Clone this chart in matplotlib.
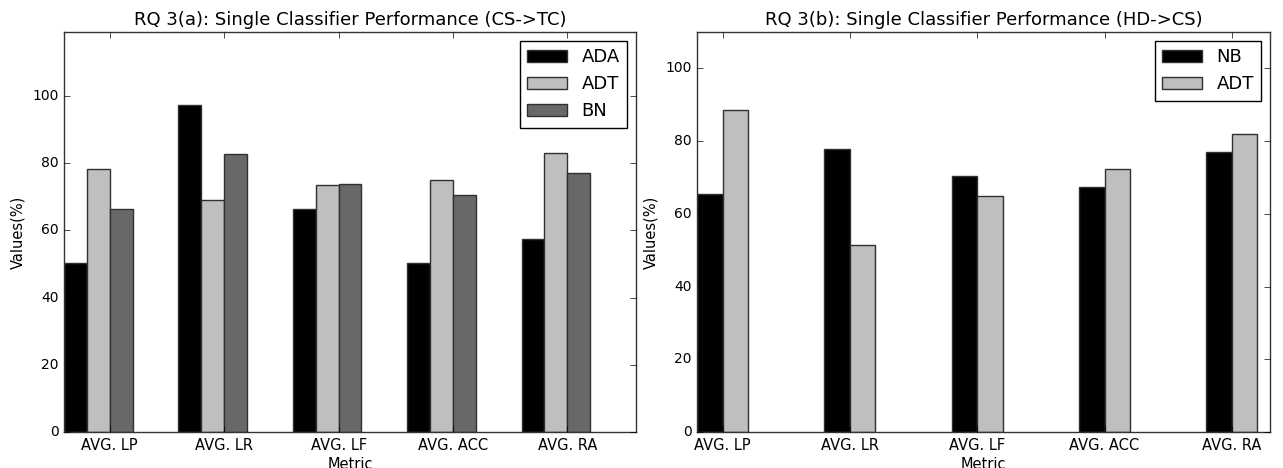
import matplotlib
matplotlib.use('Agg')
import matplotlib.pyplot as plt
import numpy as np

plt.style.use('classic')

metrics = ['AVG. LP', 'AVG. LR', 'AVG. LF', 'AVG. ACC', 'AVG. RA']

# RQ 3(a): CS->TC
ada = [50.2, 97.2, 66.2, 50.2, 57.3]
adt_a = [78.3, 69.1, 73.4, 75.0, 82.9]
bn = [66.4, 82.8, 73.7, 70.4, 77.2]

# RQ 3(b): HD->CS
nb = [65.4, 77.9, 70.5, 67.4, 76.9]
adt_b = [88.6, 51.3, 65.0, 72.4, 81.9]

fig = plt.figure(figsize=(12.83, 4.68), dpi=100, facecolor='white')
ax1 = fig.add_axes([0.0499, 0.0769, 0.4458, 0.8547])
ax2 = fig.add_axes([0.5433, 0.0769, 0.4466, 0.8547])

ind = np.arange(len(metrics))
width = 0.2
edge = '#303030'

ax1.bar(ind, ada, width, align='edge', color='black', edgecolor=edge, label='ADA')
ax1.bar(ind + width, adt_a, width, align='edge', color='#bfbfbf', edgecolor=edge, label='ADT')
ax1.bar(ind + 2 * width, bn, width, align='edge', color='#686868', edgecolor=edge, label='BN')
ax1.set_xlim(0, 5)
ax1.set_ylim(0, 119)
ax1.set_yticks([0, 20, 40, 60, 80, 100])
ax1.set_xticks(ind + 2 * width)
ax1.set_xticklabels(metrics, fontsize=10.5)
ax1.set_title('RQ 3(a): Single Classifier Performance (CS->TC)', fontsize=13)
ax1.set_xlabel('Metric', fontsize=10.5, labelpad=3)
ax1.set_ylabel('Values(%)', fontsize=10.5)
ax1.tick_params(axis='y', labelsize=10)
ax1.legend(loc='upper right', fontsize=13, handlelength=2.2)

ax2.bar(ind, nb, width, align='edge', color='black', edgecolor=edge, label='NB')
ax2.bar(ind + width, adt_b, width, align='edge', color='#bfbfbf', edgecolor=edge, label='ADT')
ax2.set_xlim(0, 4.5)
ax2.set_ylim(0, 110)
ax2.set_yticks([0, 20, 40, 60, 80, 100])
ax2.set_xticks(ind + width)
ax2.set_xticklabels(metrics, fontsize=10.5)
ax2.set_title('RQ 3(b): Single Classifier Performance (HD->CS)', fontsize=13)
ax2.set_xlabel('Metric', fontsize=10.5, labelpad=3)
ax2.set_ylabel('Values(%)', fontsize=10.5)
ax2.tick_params(axis='y', labelsize=10)
ax2.legend(loc='upper right', fontsize=13, handlelength=2.2)

for ax in (ax1, ax2):
    for s in ax.spines.values():
        s.set_edgecolor('#333333')

fig.savefig('out.png', dpi=100, facecolor='white')
